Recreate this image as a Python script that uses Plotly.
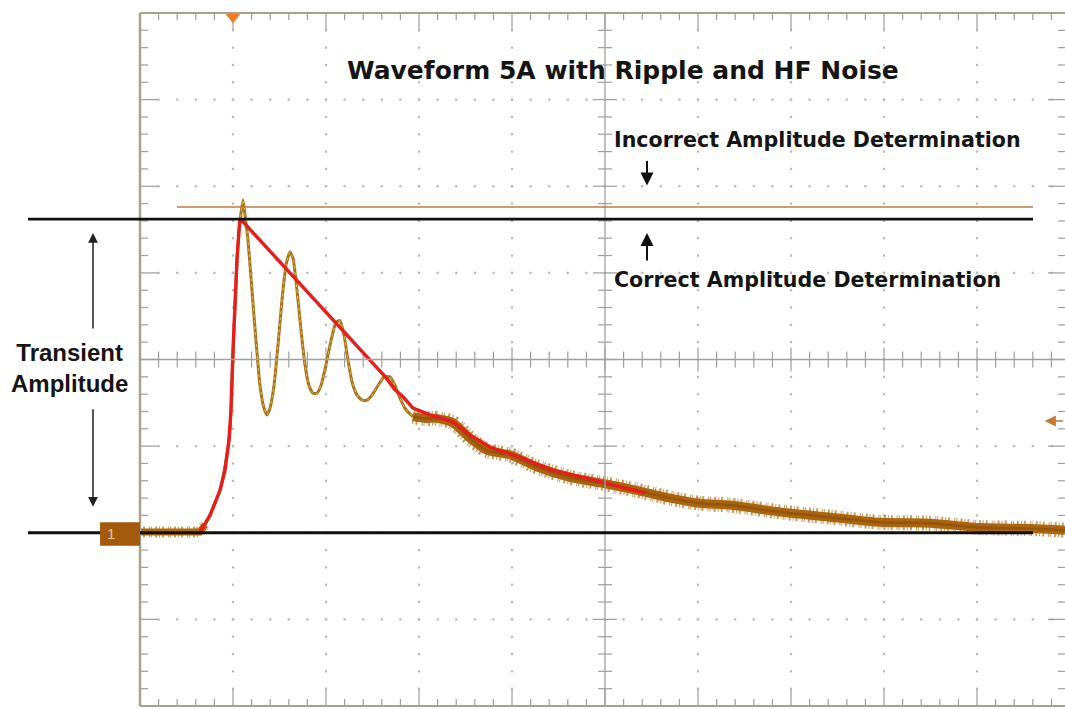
import plotly.graph_objects as go

# ---- Screen geometry (oscilloscope graticule, in divisions) ----
X_DIVS = 10          # horizontal divisions
Y_HALF = 4           # vertical divisions above / below centre
X_VIEW = 9.946       # part of the screen shown (right border sits just off the edge)

# ---- CH1 acquisition: time [div], level [div] ----
base_t = [0.000, 0.323, 0.645, 0.699]
base_v = [-1.99, -1.98, -1.99, -1.91]

ripple_t = [0.699, 0.774, 0.860, 0.925, 0.968, 1.011, 1.043, 1.075, 1.108, 1.129,
            1.161, 1.204, 1.247, 1.290, 1.333, 1.366, 1.398, 1.441, 1.484, 1.527,
            1.570, 1.613, 1.645, 1.688, 1.731, 1.774, 1.817, 1.860, 1.903, 1.946,
            2.000, 2.054, 2.108, 2.151, 2.194, 2.237, 2.280, 2.333, 2.387, 2.441,
            2.495, 2.559, 2.624, 2.688, 2.742, 2.796, 2.860, 2.935]
ripple_v = [-1.91, -1.74, -1.51, -1.16, -0.81, 0.34, 1.15, 1.59, 1.84, 1.67,
            1.38, 0.80, 0.22, -0.30, -0.56, -0.64, -0.56, -0.30, 0.17, 0.69,
            1.09, 1.24, 1.17, 0.80, 0.34, -0.06, -0.30, -0.39, -0.39, -0.30,
            -0.06, 0.22, 0.43, 0.45, 0.28, -0.01, -0.26, -0.41, -0.47, -0.47,
            -0.41, -0.30, -0.20, -0.20, -0.30, -0.45, -0.58, -0.66]

tail_t = [2.935, 3.065, 3.194, 3.366, 3.548, 3.731, 3.978, 4.269, 4.624, 4.978,
          5.344, 5.699, 6.022, 6.344, 6.882, 7.419, 7.957, 8.495, 9.032, 9.570, 9.946]
tail_v = [-0.66, -0.68, -0.68, -0.73, -0.91, -1.05, -1.10, -1.24, -1.36, -1.43,
          -1.51, -1.60, -1.66, -1.68, -1.76, -1.82, -1.88, -1.89, -1.94, -1.95, -1.97]

# ---- Peak-envelope trace used for the amplitude reading ----
env_t = [0.645, 0.753, 0.860, 0.914, 0.957, 0.978, 1.000, 1.022, 1.043, 1.065,
         1.075, 1.108, 2.645, 2.742, 2.828, 2.935, 3.118, 3.366, 3.548, 3.763,
         4.086, 4.441, 4.806, 5.161, 5.430]
env_v = [-1.99, -1.80, -1.51, -1.28, -0.93, -0.58, 0.11, 0.69, 1.15, 1.50,
         1.62, 1.59, -0.21, -0.35, -0.43, -0.56, -0.64, -0.72, -0.87, -1.01,
         -1.13, -1.28, -1.37, -1.47, -1.54]

# ---- Reference levels ----
BASELINE = -2.0
CORRECT_PEAK = 1.62
INCORRECT_PEAK = 1.76
TRIGGER_T = 1.0
REF_MARK_LEVEL = -0.71

BROWN = "#ab650f"
RED = "#e61e1a"
GRID = "#b8b8b8"
FRAME = "#a6a38c"
TXT = "#151515"
NOISE_DASH = "1px,2px,2px,4px,1px,1px,1px,3px,2px,2px"

fig = go.Figure()

# --- graticule dots every 0.2 div along the major grid lines ---
dot_x, dot_y = [], []
for gx in range(1, X_DIVS):
    if gx == 5:
        continue
    for k in range(0, 41):
        dot_x.append(gx)
        dot_y.append(-Y_HALF + k * 0.2)
for gy in range(-Y_HALF + 1, Y_HALF):
    if gy == 0:
        continue
    for k in range(0, 51):
        dot_x.append(k * 0.2)
        dot_y.append(gy)
fig.add_trace(go.Scatter(x=dot_x, y=dot_y, mode="markers",
                         marker=dict(symbol="square", size=2.2, color=GRID),
                         hoverinfo="skip", showlegend=False))

# --- tick marks on the frame and on the centre cross ---
tx, ty = [], []
px_x = 93.0      # pixels per horizontal division
px_y = 86.625    # pixels per vertical division


def seg(x0, y0, x1, y1):
    tx.extend([x0, x1, None])
    ty.extend([y0, y1, None])


for k in range(0, 51):
    t = k * 0.2
    major = (k % 5 == 0)
    # top / bottom frame
    ln = (17 if major else 7) / px_y
    seg(t, Y_HALF, t, Y_HALF - ln)
    seg(t, -Y_HALF, t, -Y_HALF + ln)
    # horizontal centre line
    h = (12 if major else 8) / px_y
    seg(t, -h, t, h)
for k in range(0, 41):
    v = -Y_HALF + k * 0.2
    major = (k % 5 == 0)
    # left / right frame
    ln = (18 if major else 8) / px_x
    seg(0, v, ln, v)
    lr = (22 if major else 12) / px_x
    seg(X_DIVS, v, X_DIVS - lr, v)
    # vertical centre line
    h = (12 if major else 7) / px_x
    seg(5 - h, v, 5 + h, v)
fig.add_trace(go.Scatter(x=tx, y=ty, mode="lines",
                         line=dict(color="#9e9e9e", width=1.2),
                         hoverinfo="skip", showlegend=False))

# --- CH1 waveform: pre-trigger baseline ---
fig.add_trace(go.Scatter(x=base_t, y=base_v, mode="lines",
                         line=dict(color=BROWN, width=7),
                         hoverinfo="skip", showlegend=False))
fig.add_trace(go.Scatter(x=base_t, y=base_v, mode="lines",
                         line=dict(color="#b87418", width=11, dash=NOISE_DASH),
                         opacity=0.7, hoverinfo="skip", showlegend=False))

# --- CH1 waveform: decaying tail with HF noise band ---
fig.add_trace(go.Scatter(x=tail_t, y=tail_v, mode="lines",
                         line=dict(color="#b66f12", width=15, dash=NOISE_DASH,
                                   shape="spline", smoothing=0.6),
                         opacity=0.7, hoverinfo="skip", showlegend=False))
fig.add_trace(go.Scatter(x=tail_t, y=tail_v, mode="lines",
                         line=dict(color=BROWN, width=9, shape="spline", smoothing=0.6),
                         hoverinfo="skip", showlegend=False))
fig.add_trace(go.Scatter(x=tail_t, y=tail_v, mode="lines",
                         line=dict(color="#8f520b", width=2.5, shape="spline", smoothing=0.6),
                         opacity=0.8, hoverinfo="skip", showlegend=False))

# --- CH1 waveform: ringing after the step ---
fig.add_trace(go.Scatter(x=ripple_t, y=ripple_v, mode="lines",
                         line=dict(color="#a5731c", width=3, shape="spline", smoothing=0.5),
                         hoverinfo="skip", showlegend=False))
fig.add_trace(go.Scatter(x=ripple_t, y=ripple_v, mode="lines",
                         line=dict(color="#e8c040", width=1, dash="dot", shape="spline", smoothing=0.5),
                         hoverinfo="skip", showlegend=False))

# --- peak envelope ---
fig.add_trace(go.Scatter(x=env_t, y=env_v, mode="lines",
                         line=dict(color=RED, width=3.4),
                         hoverinfo="skip", showlegend=False))

# --- trigger position marker ---
fig.add_trace(go.Scatter(x=[TRIGGER_T], y=[Y_HALF - 0.035], mode="markers",
                         marker=dict(symbol="triangle-down", size=15, color="#f47a22"),
                         cliponaxis=False, hoverinfo="skip", showlegend=False))

shapes = []
# frame and centre cross
shapes.append(dict(type="line", xref="paper", yref="paper", x0=0, x1=0, y0=0, y1=1,
                   line=dict(color=FRAME, width=2.5)))
shapes.append(dict(type="line", xref="paper", yref="paper", x0=0, x1=1, y0=1, y1=1,
                   line=dict(color=FRAME, width=2)))
shapes.append(dict(type="line", xref="paper", yref="paper", x0=0, x1=1, y0=0, y1=0,
                   line=dict(color=FRAME, width=2)))
shapes.append(dict(type="line", xref="x", yref="y", x0=0, x1=X_DIVS, y0=0, y1=0,
                   line=dict(color="#a0a0a0", width=1.3)))
shapes.append(dict(type="line", xref="x", yref="y", x0=5, x1=5, y0=-Y_HALF, y1=Y_HALF,
                   line=dict(color="#a0a0a0", width=1.3)))
# amplitude reference lines
shapes.append(dict(type="line", xref="paper", yref="y", x0=0.04, x1=0.9654,
                   y0=INCORRECT_PEAK, y1=INCORRECT_PEAK,
                   line=dict(color="#c07a3c", width=1.6)))
shapes.append(dict(type="line", xref="paper", yref="y", x0=-0.1211, x1=0.9654,
                   y0=CORRECT_PEAK, y1=CORRECT_PEAK,
                   line=dict(color="#101010", width=2.8)))
shapes.append(dict(type="line", xref="paper", yref="y", x0=-0.1211, x1=0.9654,
                   y0=BASELINE, y1=BASELINE,
                   line=dict(color="#101010", width=2.8)))
# channel 1 marker
shapes.append(dict(type="rect", xref="paper", yref="y", x0=-0.0432, x1=0,
                   y0=BASELINE - 0.15, y1=BASELINE + 0.12,
                   line=dict(width=0), fillcolor="#a3590e"))

annotations = [
    dict(text="<b>Waveform 5A with Ripple and HF Noise</b>", xref="paper", yref="y",
         x=0.5227, y=3.34, showarrow=False, xanchor="center", yanchor="middle",
         font=dict(family="DejaVu Sans", size=25, color=TXT)),
    dict(text="<b>Incorrect Amplitude Determination</b>", xref="paper", yref="y",
         x=0.5103, y=2.53, showarrow=False, xanchor="left", yanchor="middle",
         font=dict(family="DejaVu Sans", size=20.6, color=TXT)),
    dict(text="<b>Correct Amplitude Determination</b>", xref="paper", yref="y",
         x=0.5103, y=0.917, showarrow=False, xanchor="left", yanchor="middle",
         font=dict(family="DejaVu Sans", size=20.6, color=TXT)),
    dict(text="<b>Transient<br>Amplitude</b>", xref="paper", yref="y",
         x=-0.0757, y=-0.10, showarrow=False, xanchor="center", yanchor="middle",
         font=dict(family="Liberation Sans", size=24, color=TXT)),
    dict(text="1", xref="paper", yref="y", x=-0.031, y=BASELINE - 0.01,
         showarrow=False, xanchor="center", yanchor="middle",
         font=dict(family="Liberation Sans", size=15, color="#e9c9a0")),
    # arrows
    dict(text="", xref="paper", yref="y", x=-0.0508, y=1.46, ax=0, ay=97,
         showarrow=True, arrowhead=2, arrowsize=1.3, arrowwidth=1.5, arrowcolor="#202020"),
    dict(text="", xref="paper", yref="y", x=-0.0508, y=-1.70, ax=0, ay=-99,
         showarrow=True, arrowhead=2, arrowsize=1.3, arrowwidth=1.5, arrowcolor="#202020"),
    dict(text="", xref="paper", yref="y", x=0.5481, y=2.01, ax=0, ay=-26,
         showarrow=True, arrowhead=2, arrowsize=1.3, arrowwidth=2, arrowcolor="#101010"),
    dict(text="", xref="paper", yref="y", x=0.5481, y=1.46, ax=0, ay=29,
         showarrow=True, arrowhead=2, arrowsize=1.3, arrowwidth=2, arrowcolor="#101010"),
    dict(text="", xref="paper", yref="y", x=0.978, y=REF_MARK_LEVEL, ax=20, ay=0,
         showarrow=True, arrowhead=2, arrowsize=1.4, arrowwidth=1.6, arrowcolor="#c47a30"),
]

fig.update_layout(
    width=1065, height=709,
    margin=dict(l=140, r=0, t=13, b=3),
    paper_bgcolor="white", plot_bgcolor="white",
    shapes=shapes, annotations=annotations,
    xaxis=dict(range=[0, X_VIEW], showgrid=False, zeroline=False,
               showticklabels=False, ticks="", fixedrange=True),
    yaxis=dict(range=[-Y_HALF, Y_HALF], showgrid=False, zeroline=False,
               showticklabels=False, ticks="", fixedrange=True),
    showlegend=False,
)

fig.write_html("out.html", config=dict(displayModeBar=False))
